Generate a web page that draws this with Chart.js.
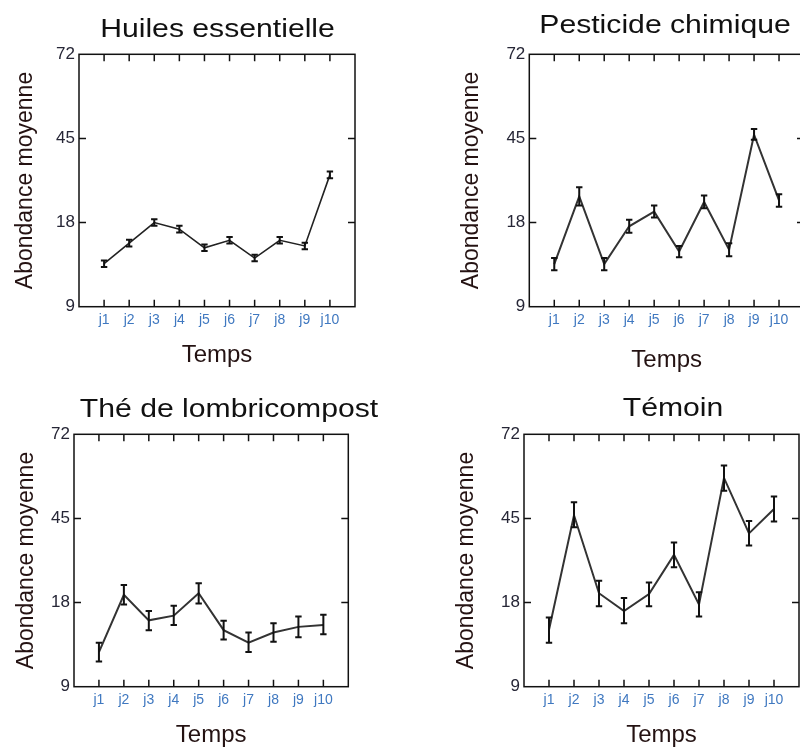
<!DOCTYPE html>
<html lang="fr">
<head>
<meta charset="utf-8">
<title>Abondance moyenne par traitement</title>
<script src="https://cdn.jsdelivr.net/npm/chart.js@4.4.1/dist/chart.umd.min.js"></script>
<style>
  html, body { margin: 0; padding: 0; background: #fff; width: 800px; height: 747px; overflow: hidden; }
  canvas { position: absolute; }
</style>
</head>
<body>
<canvas id="huiles" width="400" height="380" style="left:0;top:0"></canvas>
<canvas id="pesticide" width="410" height="380" style="left:400px;top:0"></canvas>
<canvas id="the" width="400" height="380" style="left:0;top:380px"></canvas>
<canvas id="temoin" width="410" height="380" style="left:400px;top:380px"></canvas>
<script>
// Jours de relevé et paliers de l'axe des abondances
const JOURS = ['j1', 'j2', 'j3', 'j4', 'j5', 'j6', 'j7', 'j8', 'j9', 'j10'];
const PALIERS = [9, 18, 45, 72];

// Huiles essentielles : moyenne, borne basse et borne haute de la barre d'erreur
const huilesMoy  = [13.6, 15.8, 18.0, 17.3, 15.3, 16.1, 14.2, 16.1, 15.5, 33.3];
const huilesBas  = [13.25, 15.45, 17.65, 16.95, 14.95, 15.75, 13.85, 15.75, 15.15, 32.2];
const huilesHaut = [13.95, 16.15, 19.1, 17.65, 15.65, 16.45, 14.55, 16.45, 15.85, 34.4];

// Pesticide chimique
const pestMoy  = [13.55, 26.4, 13.55, 17.6, 21.5, 14.9, 24.6, 15.1, 46.2, 25.1];
const pestBas  = [12.9, 23.5, 12.9, 16.9, 19.6, 14.3, 22.6, 14.4, 44.6, 23.1];
const pestHaut = [14.2, 29.3, 14.2, 18.9, 23.5, 15.5, 26.7, 15.8, 48.0, 27.1];

// Thé de lombricompost
const theMoy  = [12.7, 20.5, 16.1, 16.6, 21.0, 15.05, 13.7, 14.8, 15.4, 15.6];
const theBas  = [11.7, 17.8, 15.05, 15.6, 17.9, 14.05, 12.7, 13.8, 14.3, 14.6];
const theHaut = [13.7, 23.6, 17.1, 17.65, 24.2, 16.05, 14.8, 15.8, 16.5, 16.7];

// Témoin
const temoinMoy  = [15.1, 46.0, 21.0, 17.1, 20.7, 33.3, 17.8, 58.0, 40.2, 48.0];
const temoinBas  = [13.7, 42.2, 17.6, 15.8, 17.6, 29.3, 16.5, 53.9, 36.3, 44.0];
const temoinHaut = [16.4, 50.2, 25.0, 19.5, 24.4, 37.3, 21.3, 62.0, 44.2, 52.0];

const POLICE = "'Liberation Sans', Arial, sans-serif";

// Axe à paliers : chaque intervalle entre deux paliers occupe la même hauteur
class PaliersScale extends Chart.LinearScale {
  determineDataLimits() {
    this.min = PALIERS[0];
    this.max = PALIERS[PALIERS.length - 1];
  }
  buildTicks() {
    return PALIERS.map(value => ({ value }));
  }
  rang(v) {
    if (v <= PALIERS[0]) return 0;
    for (let i = 1; i < PALIERS.length; i++) {
      if (v <= PALIERS[i]) return i - 1 + (v - PALIERS[i - 1]) / (PALIERS[i] - PALIERS[i - 1]);
    }
    return PALIERS.length - 1;
  }
  getPixelForValue(v) {
    return this.getPixelForDecimal(this.rang(v) / (PALIERS.length - 1));
  }
  getValueForPixel(px) {
    const r = this.getDecimalForPixel(px) * (PALIERS.length - 1);
    const i = Math.max(0, Math.min(Math.floor(r), PALIERS.length - 2));
    return PALIERS[i] + (r - i) * (PALIERS[i + 1] - PALIERS[i]);
  }
}
PaliersScale.id = 'paliers';
Chart.register(PaliersScale);

// Cadre du graphique avec graduations tournées vers l'intérieur
const cadre = {
  id: 'cadre',
  beforeDatasetsDraw(chart) {
    const { ctx, chartArea: a, scales: { x, y } } = chart;
    const L = 7;
    ctx.save();
    ctx.strokeStyle = '#111';
    ctx.lineWidth = 1.5;
    ctx.strokeRect(a.left, a.top, a.right - a.left, a.bottom - a.top);
    ctx.beginPath();
    x.ticks.forEach(t => {
      const px = x.getPixelForValue(t.value);
      ctx.moveTo(px, a.top); ctx.lineTo(px, a.top + L);
      ctx.moveTo(px, a.bottom); ctx.lineTo(px, a.bottom - L);
    });
    y.ticks.slice(1, -1).forEach(t => {
      const py = y.getPixelForValue(t.value);
      ctx.moveTo(a.left, py); ctx.lineTo(a.left + L, py);
      ctx.moveTo(a.right, py); ctx.lineTo(a.right - L, py);
    });
    ctx.stroke();
    ctx.restore();
  }
};

// Barres d'erreur verticales avec petits chapeaux
const barresErreur = {
  id: 'barresErreur',
  afterDatasetsDraw(chart, args, opts) {
    const { ctx, scales: { x, y } } = chart;
    const c = 3.2;
    ctx.save();
    ctx.strokeStyle = '#111';
    ctx.lineWidth = 2;
    ctx.beginPath();
    opts.bas.forEach((b, i) => {
      const px = x.getPixelForValue(i + 1);
      const y1 = y.getPixelForValue(b);
      const y2 = y.getPixelForValue(opts.haut[i]);
      ctx.moveTo(px, y1); ctx.lineTo(px, y2);
      ctx.moveTo(px - c, y1); ctx.lineTo(px + c, y1);
      ctx.moveTo(px - c, y2); ctx.lineTo(px + c, y2);
    });
    ctx.stroke();
    ctx.restore();
  }
};

// Titre de chaque panneau, légèrement élargi
const titrePanneau = {
  id: 'titrePanneau',
  afterDraw(chart, args, opts) {
    const { ctx } = chart;
    ctx.save();
    ctx.translate(opts.x, opts.y);
    ctx.scale(1.16, 1);
    ctx.font = `26px ${POLICE}`;
    ctx.fillStyle = '#111';
    ctx.textAlign = 'center';
    ctx.textBaseline = 'alphabetic';
    ctx.fillText(opts.texte, 0, 0);
    ctx.restore();
  }
};

const HAUT = 54.3, BAS = 306.7;

const panneaux = [
  { id: 'huiles', titre: 'Huiles essentielle', moy: huilesMoy, bas: huilesBas, haut: huilesHaut,
    gauche: 79, droite: 355, titreX: 217.5, titreY: 36.7, padY: 12.2, padX: 10.6, trait: '#222', epaisseur: 1.6 },
  { id: 'pesticide', titre: 'Pesticide chimique', moy: pestMoy, bas: pestBas, haut: pestHaut,
    gauche: 129.3, droite: 404, titreX: 265, titreY: 33, padY: 58.2, padX: 5.6, trait: '#333', epaisseur: 2 },
  { id: 'the', titre: 'Thé de lombricompost', moy: theMoy, bas: theBas, haut: theHaut,
    gauche: 74, droite: 348.3, titreX: 229, titreY: 36.7, padY: 13.2, padX: 10.6, trait: '#333', epaisseur: 2 },
  { id: 'temoin', titre: 'Témoin', moy: temoinMoy, bas: temoinBas, haut: temoinHaut,
    gauche: 124, droite: 399, titreX: 273, titreY: 36, padY: 53.2, padX: 10.6, trait: '#333', epaisseur: 2 }
];

panneaux.forEach(p => {
  const canvas = document.getElementById(p.id);
  const W = canvas.width, H = canvas.height;
  new Chart(canvas, {
    type: 'line',
    data: {
      datasets: [{
        data: p.moy.map((m, i) => ({ x: i + 1, y: m })),
        borderColor: p.trait,
        borderWidth: p.epaisseur,
        pointRadius: 0,
        tension: 0,
        fill: false
      }]
    },
    options: {
      responsive: false,
      animation: false,
      events: [],
      layout: { padding: { top: HAUT, right: W - p.droite, left: 0, bottom: 0 } },
      plugins: {
        legend: { display: false },
        tooltip: { enabled: false },
        title: { display: false },
        barresErreur: { bas: p.bas, haut: p.haut },
        titrePanneau: { texte: p.titre, x: p.titreX, y: p.titreY }
      },
      scales: {
        x: {
          type: 'linear',
          min: 0,
          max: JOURS.length + 1,
          grid: { display: false, drawTicks: false },
          border: { display: false },
          afterBuildTicks: s => { s.ticks = JOURS.map((_, i) => ({ value: i + 1 })); },
          afterFit: s => { s.height = H - BAS; },
          ticks: {
            autoSkip: false,
            maxRotation: 0,
            padding: 5,
            color: '#3f78c0',
            font: { family: POLICE, size: 14 },
            callback: v => JOURS[v - 1]
          },
          title: {
            display: true,
            text: 'Temps',
            color: '#241212',
            font: { family: POLICE, size: 24 },
            padding: { top: 0, bottom: p.padX }
          }
        },
        y: {
          type: 'paliers',
          grid: { display: false, drawTicks: false },
          border: { display: false },
          afterFit: s => { s.width = p.gauche; },
          ticks: {
            padding: 4,
            color: '#262636',
            font: { family: POLICE, size: 17 },
            callback: v => String(v)
          },
          title: {
            display: true,
            text: 'Abondance moyenne',
            color: '#241212',
            font: { family: POLICE, size: 23 },
            padding: { top: p.padY, bottom: 0 }
          }
        }
      }
    },
    plugins: [cadre, barresErreur, titrePanneau]
  });
});
</script>
</body>
</html>
